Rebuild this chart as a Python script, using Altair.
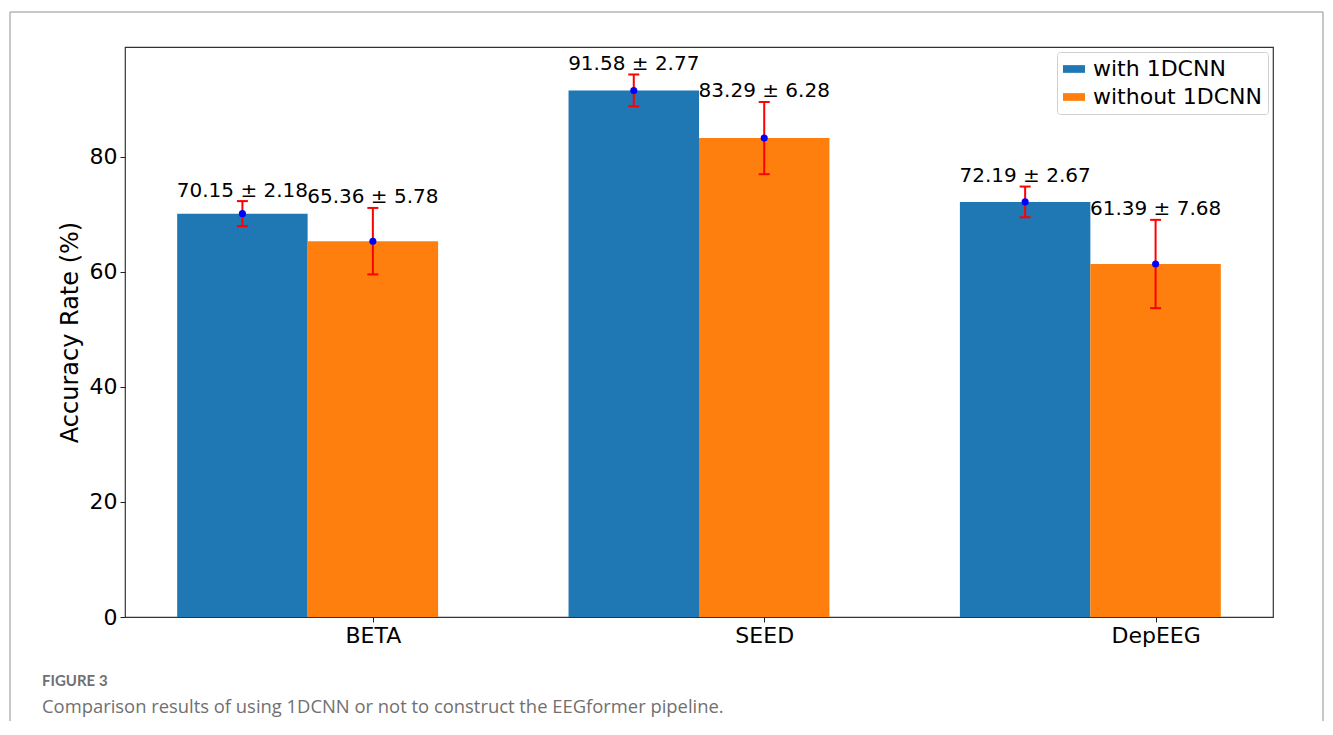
import altair as alt
import pandas as pd

datasets = ["BETA", "SEED", "DepEEG"]
series = ["with 1DCNN", "without 1DCNN"]
with_mean = [70.15, 91.58, 72.19]
with_std = [2.18, 2.77, 2.67]
without_mean = [65.36, 83.29, 61.39]
without_std = [5.78, 6.28, 7.68]
colors = ["#1f77b4", "#ff7f0e"]
y_ticks = [0, 20, 40, 60, 80]
bar_width = 1 / 3
caption_head = "FIGURE 3"
caption_text = "Comparison results of using 1DCNN or not to construct the EEGformer pipeline."

rows = []
for i, d in enumerate(datasets):
    pairs = [(with_mean[i], with_std[i]), (without_mean[i], without_std[i])]
    for j, (m, s) in enumerate(pairs):
        c = i + j * bar_width
        rows.append(dict(dataset=d, series=series[j], mean=m, std=s, center=c,
                         left=c - bar_width / 2, right=c + bar_width / 2,
                         lo=m - s, hi=m + s, label=f"{m:.2f} ± {s:.2f}"))
df = pd.DataFrame(rows)

tick_vals = [i + bar_width for i in range(len(datasets))]
label_expr = "datum.value < 1 ? '%s' : (datum.value < 2 ? '%s' : '%s')" % tuple(datasets)

W, H = 1148, 570
xscale = alt.Scale(domain=[-0.3, len(datasets) - 1 + bar_width + 0.3], nice=False, zero=False)
yscale = alt.Scale(domain=[0, 99.13], nice=False)

base = alt.Chart(df)

x_axis = alt.Axis(values=tick_vals, labelExpr=label_expr, title=None, grid=False,
                  labelFontSize=22, labelFont="DejaVu Sans", labelColor="black",
                  tickColor="#222", tickSize=5, labelPadding=3, domain=False,
                  labelFlush=False, labelOverlap=False)
y_axis = alt.Axis(values=y_ticks, title="Accuracy Rate (%)", grid=False,
                  labelFontSize=22, labelFont="DejaVu Sans", labelColor="black",
                  titleFontSize=24, titleFont="DejaVu Sans", titleFontWeight="normal",
                  titleColor="black", titlePadding=7, titleLimit=400,
                  tickColor="#222", tickSize=5, labelPadding=3, domain=False)

bars = base.mark_bar().encode(
    x=alt.X("left:Q", scale=xscale, axis=x_axis),
    x2="right:Q",
    y=alt.Y("mean:Q", scale=yscale, axis=y_axis),
    y2=alt.datum(0),
    color=alt.Color("series:N", scale=alt.Scale(domain=series, range=colors),
                    legend=alt.Legend(title=None, orient="top-right", offset=5,
                                      labelFontSize=22, labelFont="DejaVu Sans",
                                      labelColor="black", labelLimit=400,
                                      symbolType="M-1,-0.35L1,-0.35L1,0.35L-1,0.35Z",
                                      symbolSize=484, symbolStrokeWidth=0, symbolOpacity=1,
                                      labelOffset=8, rowPadding=6, padding=6,
                                      strokeColor="#d0d0d0", fillColor="white",
                                      cornerRadius=3)),
)

err = base.mark_rule(color="red", strokeWidth=2).encode(
    x=alt.X("center:Q", scale=xscale), y=alt.Y("lo:Q", scale=yscale), y2="hi:Q")
cap_lo = base.mark_rule(color="red", strokeWidth=2, xOffset=-5.5, x2Offset=5.5).encode(
    x=alt.X("center:Q", scale=xscale), x2="center:Q", y=alt.Y("lo:Q", scale=yscale))
cap_hi = base.mark_rule(color="red", strokeWidth=2, xOffset=-5.5, x2Offset=5.5).encode(
    x=alt.X("center:Q", scale=xscale), x2="center:Q", y=alt.Y("hi:Q", scale=yscale))
dots = base.mark_circle(color="blue", size=50, opacity=1).encode(
    x=alt.X("center:Q", scale=xscale), y=alt.Y("mean:Q", scale=yscale))
texts = base.mark_text(fontSize=20, font="DejaVu Sans", color="black",
                       baseline="alphabetic", align="center", dy=-4.5).encode(
    x=alt.X("center:Q", scale=xscale), y=alt.Y("hi:Q", scale=yscale), text="label:N")

frame_color = "#b5b5b5"
frame_left = alt.Chart().mark_rule(color=frame_color, strokeWidth=1.5).encode(
    x=alt.value(-115), y=alt.value(-35), y2=alt.value(H + 130))
frame_top = alt.Chart().mark_rule(color=frame_color, strokeWidth=1.5).encode(
    x=alt.value(-115), x2=alt.value(1198), y=alt.value(-35))
frame_right = alt.Chart().mark_rule(color=frame_color, strokeWidth=1.5).encode(
    x=alt.value(1198), y=alt.value(-35), y2=alt.value(H + 130))

cap1 = alt.Chart(pd.DataFrame({"t": [caption_head]})).mark_text(
    font="Lato", fontSize=15, fontWeight="bold", color="#707070",
    align="left", baseline="alphabetic").encode(
    text="t:N", x=alt.value(-83), y=alt.value(639))
cap2 = alt.Chart(pd.DataFrame({"t": [caption_text]})).mark_text(
    font="Open Sans", fontSize=18.4, color="#707070",
    align="left", baseline="alphabetic").encode(
    text="t:N", x=alt.value(-83), y=alt.value(666))

chart = alt.layer(frame_left, frame_top, frame_right, bars, err, cap_lo, cap_hi, dots, texts,
                  cap1, cap2).properties(
    width=W, height=H,
    autosize=alt.AutoSizeParams(type="none"),
    padding={"left": 117, "top": 39, "right": 52, "bottom": 104},
).configure(background="white").configure_view(stroke="#333", strokeWidth=1.2)

chart.save("out.html", embed_options={"renderer": "svg", "actions": False})
